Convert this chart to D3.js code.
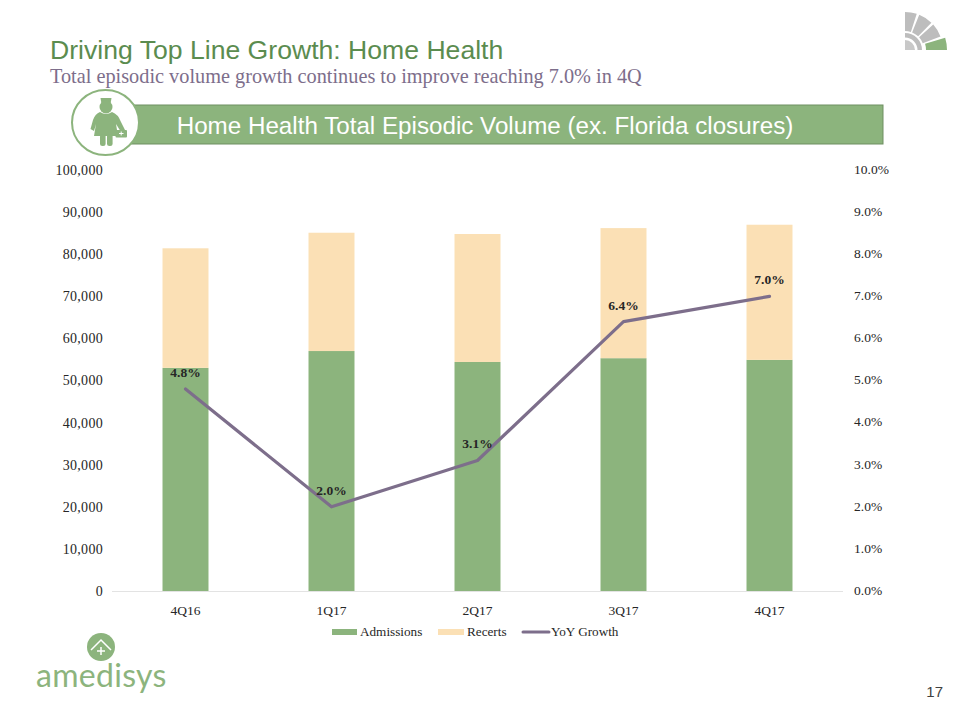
<!DOCTYPE html>
<html><head><meta charset="utf-8">
<script src="https://cdn.jsdelivr.net/npm/d3@7"></script>
<style>html,body{margin:0;padding:0;background:#fff}svg{display:block}</style>
</head><body><svg id="c" width="960" height="720"></svg>
<script>
const categories=["4Q16","1Q17","2Q17","3Q17","4Q17"];
const admissions=[53000,57000,54400,55300,54900];
const recerts=[28400,28100,30400,30900,32100];
const growth=[4.8,2.0,3.1,6.4,7.0];
const leftTicks=[0,10000,20000,30000,40000,50000,60000,70000,80000,90000,100000];
const rightTicks=[0,1,2,3,4,5,6,7,8,9,10];
const seriesNames=["Admissions","Recerts","YoY Growth"];
const GREEN="#8cb47d",PEACH="#fbe0b5",PURPLE="#7d6e8b",SERIF="'Liberation Serif',serif",SANS="'Liberation Sans',Arial,sans-serif";

const svg=d3.select("#c");
const x=d3.scaleBand().domain(categories).range([112.500,842.500]).paddingInner(0.685).paddingOuter(0.3425);
const y=d3.scaleLinear().domain([0,100000]).range([591,170]);
const yr=d3.scaleLinear().domain([0,10]).range([591,170]);

// header
svg.append("text").attr("x",50).attr("y",59).attr("font-family",SANS).attr("font-size",26.6).attr("fill","#5b8c4f").text("Driving Top Line Growth: Home Health");
svg.append("text").attr("x",50).attr("y",83).attr("font-family",SERIF).attr("font-size",20.3).attr("fill","#7d6e8b").text("Total episodic volume growth continues to improve reaching 7.0% in 4Q");

// banner
svg.append("rect").attr("x",120).attr("y",105).attr("width",763).attr("height",39).attr("fill",GREEN).attr("stroke","#6f8f62").attr("stroke-width",1);
svg.append("text").attr("x",485).attr("y",134).attr("text-anchor","middle").attr("font-family",SANS).attr("font-size",24.2).attr("fill","#fff").text("Home Health Total Episodic Volume (ex. Florida closures)");
svg.append("ellipse").attr("cx",105.5).attr("cy",122.5).attr("rx",33.5).attr("ry",32.5).attr("fill","#fff").attr("stroke",GREEN).attr("stroke-width",2);
// nurse icon
const nurse=svg.append("g").attr("fill",GREEN);
nurse.append("path").attr("d","M100.500 98h11l-1 6h-9z");
nurse.append("circle").attr("cx",106).attr("cy",107).attr("r",6.5);
nurse.append("path").attr("d","M100 112Q106 116 112 112Q118 114 121 122L125 130L121 132L116 124L118 136H94L96 124L94 131L90.500 129L93 120Q95 114 100 112Z");
nurse.append("rect").attr("x",100).attr("y",134).attr("width",5.600).attr("height",12).attr("rx",2.500);
nurse.append("rect").attr("x",107).attr("y",134).attr("width",5.600).attr("height",12).attr("rx",2.500);
nurse.append("rect").attr("x",115.500).attr("y",130).attr("width",11.500).attr("height",7.500).attr("rx",1);
nurse.append("path").attr("d","M119 133.500h4.500M121.200 131.500v4").attr("stroke","#fff").attr("stroke-width",1);

// corner logo
const cx=905,cy=50,arc=d3.arc(),deg=Math.PI/180;
const cornerG=svg.append("g").attr("transform",`translate(${cx},${cy})`);
[[0,18],[22,44],[48,69]].forEach(([a,b])=>{
  cornerG.append("path").attr("fill","#bdbdbd").attr("d",arc({innerRadius:19,outerRadius:38,startAngle:a*deg,endAngle:b*deg}));
});
cornerG.append("path").attr("fill","#8cb47d").attr("d",arc({innerRadius:21,outerRadius:42,startAngle:73*deg,endAngle:90*deg}));
cornerG.append("path").attr("fill","#bdbdbd").attr("d",arc({innerRadius:12.500,outerRadius:17,startAngle:0,endAngle:90*deg}));
cornerG.append("path").attr("fill","#c8c8c8").attr("d",arc({innerRadius:0,outerRadius:10,startAngle:0,endAngle:90*deg}));

// bars
const stack=categories.map((c,i)=>({c,a:admissions[i],r:recerts[i]}));
svg.append("g").selectAll("rect").data(stack).join("rect").attr("x",d=>x(d.c)).attr("width",x.bandwidth())
  .attr("y",d=>y(d.a)).attr("height",d=>y(0)-y(d.a)).attr("fill",GREEN);
svg.append("g").selectAll("rect").data(stack).join("rect").attr("x",d=>x(d.c)).attr("width",x.bandwidth())
  .attr("y",d=>y(d.a+d.r)).attr("height",d=>y(d.a)-y(d.a+d.r)).attr("fill",PEACH);

// axes
const styleAxis=(g,size,ls,dy)=>{g.select(".domain").remove();g.selectAll("line").remove();
  g.selectAll("text").attr("font-family",SERIF).attr("font-size",size).attr("letter-spacing",ls).attr("fill","#262626").attr("transform",`translate(0,${dy})`);};
svg.append("g").attr("transform","translate(103,0)").call(d3.axisLeft(y).tickValues(leftTicks).tickFormat(d3.format(",")).tickSize(0).tickPadding(0)).call(styleAxis,14,0.3,0);
svg.append("g").attr("transform","translate(854,0)").call(d3.axisRight(yr).tickValues(rightTicks).tickFormat(d=>d.toFixed(1)+"%").tickSize(0).tickPadding(0)).call(styleAxis,13.5,0,-1);
svg.append("line").attr("x1",112).attr("x2",843).attr("y1",591.500).attr("y2",591.500).attr("stroke","#e3e3e3");
svg.append("g").attr("transform","translate(0,591)").call(d3.axisBottom(x).tickSize(0).tickPadding(14)).call(styleAxis,13.5,0,0);

// line
const lx=c=>x(c)+x.bandwidth()/2;
const line=d3.line().x(d=>lx(d.c)).y(d=>yr(d.v));
const lineData=categories.map((c,i)=>({c,v:growth[i]}));
svg.append("path").datum(lineData).attr("d",line).attr("fill","none").attr("stroke",PURPLE).attr("stroke-width",3.2).attr("stroke-linecap","round").attr("stroke-linejoin","round");
svg.append("g").selectAll("text").data(lineData).join("text").attr("x",d=>lx(d.c)).attr("y",d=>yr(d.v)-12)
  .attr("text-anchor","middle").attr("font-family",SERIF).attr("font-size",13.5).attr("font-weight","bold").attr("fill","#262626").text(d=>d.v.toFixed(1)+"%");

// legend
const lg=svg.append("g").attr("font-family",SERIF).attr("font-size",13.2).attr("fill","#262626");
lg.append("rect").attr("x",332).attr("y",629).attr("width",25).attr("height",6).attr("fill",GREEN);
lg.append("text").attr("x",360).attr("y",636).text(seriesNames[0]);
lg.append("rect").attr("x",438).attr("y",629).attr("width",26).attr("height",6).attr("fill",PEACH);
lg.append("text").attr("x",467).attr("y",636).text(seriesNames[1]);
lg.append("line").attr("x1",523).attr("x2",549).attr("y1",632).attr("y2",632).attr("stroke",PURPLE).attr("stroke-width",3).attr("stroke-linecap","round");
lg.append("text").attr("x",551).attr("y",636).text(seriesNames[2]);

// amedisys logo
svg.append("circle").attr("cx",101).attr("cy",647).attr("r",14).attr("fill",GREEN);
svg.append("path").attr("d","M91 650L101 640L111 650M101 647v8M97 651h8").attr("fill","none").attr("stroke","#fff").attr("stroke-width",1.500);
svg.append("text").attr("x",36).attr("y",687).attr("font-family","Lato,sans-serif").attr("font-size",32).attr("fill",GREEN).attr("letter-spacing",0.300).text("amedisys");

svg.append("text").attr("x",943).attr("y",697).attr("text-anchor","end").attr("font-family",SANS).attr("font-size",15).attr("fill","#404040").text("17");
</script></body></html>
